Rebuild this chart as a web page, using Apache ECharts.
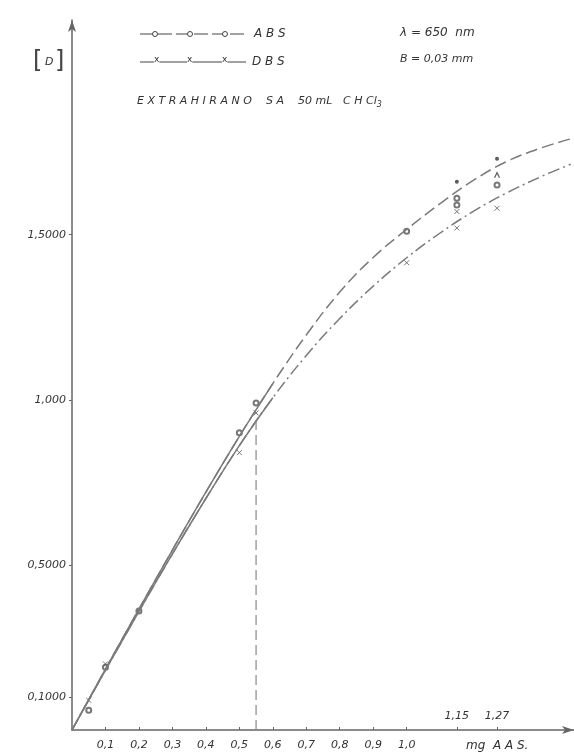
<!DOCTYPE html>
<html>
<head>
<meta charset="utf-8">
<script src="https://cdn.jsdelivr.net/npm/echarts@6/dist/echarts.min.js"></script>
<style>
  html, body { margin: 0; padding: 0; background: #fff; }
  #chart { width: 574px; height: 755px; }
</style>
</head>
<body>
<div id="chart"></div>
<script>
// krivulje ABS i DBS, procijenjene sa slike
const curveX = [0, 0.1, 0.2, 0.3, 0.4, 0.5, 0.6, 0.7, 0.8, 0.9, 1.0, 1.1, 1.2, 1.3, 1.4, 1.49];
const absCurveY = [0, 0.184, 0.366, 0.545, 0.720, 0.889, 1.049, 1.196, 1.326, 1.431, 1.516, 1.594, 1.665, 1.722, 1.762, 1.79];
const dbsCurveY = [0, 0.181, 0.359, 0.533, 0.701, 0.861, 1.006, 1.134, 1.246, 1.344, 1.430, 1.505, 1.571, 1.627, 1.675, 1.713];
const solidUntil = 0.6;

// izmjerene tocke
const absPointsX = [0.05, 0.1, 0.2, 0.5, 0.55, 1.0, 1.15, 1.15, 1.27];
const absPointsY = [0.06, 0.19, 0.36, 0.90, 0.99, 1.51, 1.61, 1.59, 1.65];
const dotPointsX = [1.15, 1.27];
const dotPointsY = [1.66, 1.73];
const caretPointsX = [1.27];
const caretPointsY = [1.68];
const dbsPointsX = [0.05, 0.1, 0.5, 0.55, 1.0, 1.15, 1.15, 1.27];
const dbsPointsY = [0.09, 0.20, 0.84, 0.96, 1.415, 1.57, 1.52, 1.58];

// okomita isprekidana linija
const dropX = 0.55;
const dropY = 0.95;

const xTicks = [0.1, 0.2, 0.3, 0.4, 0.5, 0.6, 0.7, 0.8, 0.9, 1.0, 1.15, 1.27];
const xLabels = [0.1, 0.2, 0.3, 0.4, 0.5, 0.6, 0.7, 0.8, 0.9, 1.0];
const xMarkLabels = [1.15, 1.27];
const yTicks = [0.1, 0.5, 1.0, 1.5];
const yLabelText = { 0.1: '0,1000', 0.5: '0,5000', 1: '1,000', 1.5: '1,5000' };

const zip = (xs, ys) => xs.map((x, i) => [x, ys[i]]);
const ink = '#444';
const curve = '#7a7a7a';
const font = 'DejaVu Sans';

const labelStyle = { fontFamily: font, fontStyle: 'italic', fontSize: 11, color: '#333' };
const note = (left, top, text, size) => ({
  type: 'text', left: left, top: top,
  style: { text: text, font: 'italic ' + (size || 11) + 'px DejaVu Sans', fill: '#333' }
});
const crossMark = cx => ({ type: 'text', left: cx - 3, top: 55, style: { text: 'x', font: '9px DejaVu Sans', fill: '#333', backgroundColor: '#fff' } });
const ringMark = cx => ({ type: 'circle', shape: { cx: cx, cy: 34, r: 2.5 }, style: { fill: '#fff', stroke: ink, lineWidth: 1 } });

const option = {
  animation: false,
  backgroundColor: '#fff',
  grid: { left: 72, right: 0, top: 20, bottom: 25 },
  xAxis: [{
    type: 'value', min: 0, max: 1.5,
    splitLine: { show: false },
    axisLine: { lineStyle: { color: '#666', width: 1.5 }, symbol: ['none', 'arrow'], symbolSize: [6, 12] },
    axisTick: { customValues: xTicks, length: 3, inside: true, lineStyle: { color: '#666' } },
    axisLabel: Object.assign({
      customValues: xLabels, margin: 10,
      formatter: v => v.toFixed(1).replace('.', ',')
    }, labelStyle)
  }, {
    type: 'value', min: 0, max: 1.5, position: 'bottom',
    splitLine: { show: false },
    axisLine: { show: false },
    axisTick: { show: false },
    axisLabel: Object.assign({
      customValues: xMarkLabels, inside: true, margin: 8,
      formatter: v => v.toFixed(2).replace('.', ',')
    }, labelStyle)
  }],
  yAxis: {
    type: 'value', min: 0, max: 2.15,
    splitLine: { show: false },
    axisLine: { lineStyle: { color: '#666', width: 1.5 }, symbol: ['none', 'arrow'], symbolSize: [6, 12] },
    axisTick: { customValues: yTicks, length: 3, lineStyle: { color: '#666' } },
    axisLabel: Object.assign({
      customValues: yTicks, margin: 6,
      formatter: v => yLabelText[v]
    }, labelStyle)
  },
  series: [
    {
      name: 'ABS', type: 'line', smooth: 0.4, showSymbol: false,
      data: zip(curveX, absCurveY),
      lineStyle: { color: curve, width: 1.5, type: [12, 5] }
    },
    {
      name: 'ABS puna', type: 'line', smooth: 0.4, showSymbol: false,
      data: zip(curveX, absCurveY).filter(p => p[0] <= solidUntil),
      lineStyle: { color: curve, width: 1.5 }
    },
    {
      name: 'DBS', type: 'line', smooth: 0.4, showSymbol: false,
      data: zip(curveX, dbsCurveY),
      lineStyle: { color: curve, width: 1.5, type: [12, 4, 2, 4] }
    },
    {
      name: 'DBS puna', type: 'line', smooth: 0.4, showSymbol: false,
      data: zip(curveX, dbsCurveY).filter(p => p[0] <= solidUntil),
      lineStyle: { color: curve, width: 1.5 }
    },
    {
      name: 'okomica', type: 'line', showSymbol: false,
      data: [[dropX, 0], [dropX, dropY]],
      lineStyle: { color: '#888', width: 1.2, type: [10, 5] }
    },
    {
      name: 'ABS tocke', type: 'scatter', symbol: 'emptyCircle', symbolSize: 5,
      data: zip(absPointsX, absPointsY),
      itemStyle: { color: '#555', borderWidth: 1 }
    },
    {
      name: 'tocke', type: 'scatter', symbol: 'circle', symbolSize: 4,
      data: zip(dotPointsX, dotPointsY),
      itemStyle: { color: '#333' }
    },
    {
      name: 'kvacica', type: 'scatter', symbol: 'path://M0,10L5,0L10,10', symbolSize: [5, 5],
      data: zip(caretPointsX, caretPointsY),
      itemStyle: { color: 'transparent', borderColor: '#333', borderWidth: 1.2 }
    },
    {
      name: 'DBS tocke', type: 'scatter', symbol: 'path://M0,0L10,10M10,0L0,10', symbolSize: 5,
      data: zip(dbsPointsX, dbsPointsY),
      itemStyle: { color: 'transparent', borderColor: '#555', borderWidth: 1 }
    }
  ],
  graphic: [
    { type: 'text', left: 33, top: 50, style: { text: '[', font: '24px DejaVu Sans', fill: '#444' } },
    { type: 'text', left: 45, top: 57, style: { text: 'D', font: 'italic 11px DejaVu Sans', fill: '#333' } },
    { type: 'text', left: 55, top: 50, style: { text: ']', font: '24px DejaVu Sans', fill: '#444' } },
    // legenda ABS
    { type: 'line', shape: { x1: 140, y1: 34, x2: 244, y2: 34 }, style: { stroke: ink, lineWidth: 1, lineDash: [14, 4] } },
    ringMark(155), ringMark(190), ringMark(225),
    note(254, 28, 'A B S', 12),
    // legenda DBS
    { type: 'line', shape: { x1: 140, y1: 62, x2: 246, y2: 62 }, style: { stroke: ink, lineWidth: 1 } },
    crossMark(157), crossMark(190), crossMark(225),
    note(252, 56, 'D B S', 12),
    note(400, 27, 'λ = 650  nm', 12),
    note(400, 54, 'B = 0,03 mm', 11),
    note(137, 96, 'E X T R A H I R A N O', 11),
    note(266, 96, 'S A', 11),
    note(298, 96, '50 mL', 11),
    {
      type: 'text', left: 343, top: 96,
      style: {
        text: '{a|C H Cl}{s|3}',
        rich: {
          a: { font: 'italic 11px DejaVu Sans', fill: '#333' },
          s: { font: 'italic 8px DejaVu Sans', fill: '#333', padding: [6, 0, 0, 0] }
        }
      }
    },
    note(466, 740, 'mg  A A S.', 12)
  ]
};

const chart = echarts.init(document.getElementById('chart'));
chart.setOption(option);
</script>
</body>
</html>
